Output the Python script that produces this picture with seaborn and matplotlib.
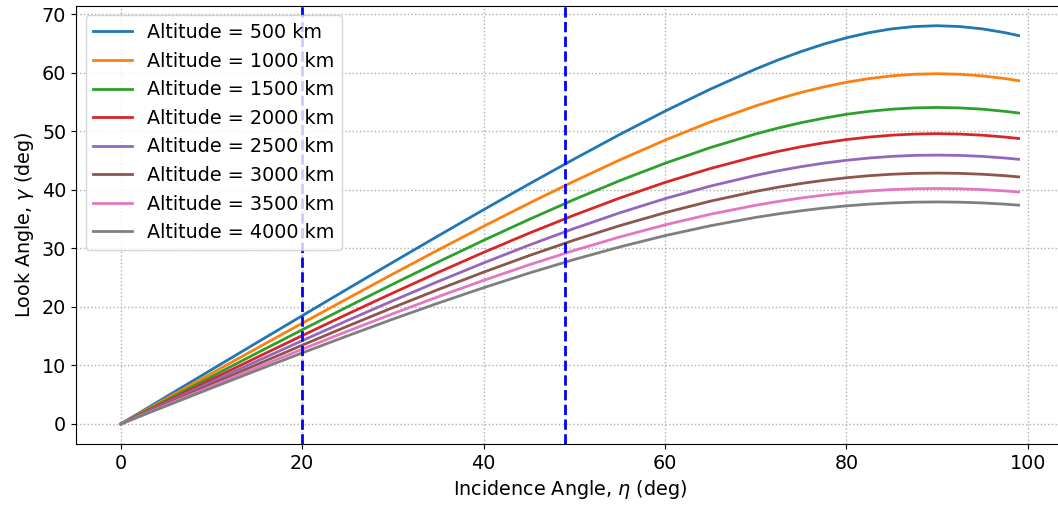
import matplotlib
matplotlib.use("Agg")
import matplotlib.pyplot as plt
import pandas as pd
import seaborn as sns

# Incidence angle samples (deg)
incidence = [0, 5, 10, 15, 20, 25, 30, 35, 40, 45, 50, 55, 60, 65, 70,
             72.5, 75, 77.5, 80, 82.5, 85, 87.5, 90, 92.5, 95, 97.5, 99]

# Look angle (deg) for each orbital altitude
look_500 = [0, 4.64, 9.27, 13.89, 18.49, 23.07, 27.62, 32.13, 36.59, 40.97, 45.26, 49.43,
            53.42, 57.18, 60.62, 62.18, 63.60, 64.87, 65.95, 66.83, 67.48, 67.88, 68.02,
            67.88, 67.48, 66.83, 66.33]
look_1000 = [0, 4.32, 8.63, 12.93, 17.20, 21.43, 25.61, 29.73, 33.76, 37.68, 41.47, 45.08,
             48.47, 51.58, 54.32, 55.53, 56.62, 57.56, 58.36, 58.99, 59.45, 59.73, 59.82,
             59.73, 59.45, 58.99, 58.63]
look_1500 = [0, 4.05, 8.08, 12.10, 16.08, 20.01, 23.88, 27.67, 31.36, 34.92, 38.34, 41.54,
             44.52, 47.20, 49.53, 50.55, 51.45, 52.22, 52.89, 53.39, 53.76, 53.98, 54.06,
             53.98, 53.76, 53.39, 53.11]
look_2000 = [0, 3.80, 7.60, 11.36, 15.09, 18.77, 22.37, 25.89, 29.30, 32.57, 35.67, 38.58,
             41.25, 43.63, 45.67, 46.56, 47.34, 48.01, 48.57, 49.00, 49.32, 49.51, 49.58,
             49.51, 49.32, 49.00, 48.76]
look_2500 = [0, 3.59, 7.17, 10.72, 14.22, 17.68, 21.05, 24.34, 27.50, 30.53, 33.39, 36.05,
             38.48, 40.62, 42.46, 43.25, 43.94, 44.54, 45.03, 45.42, 45.70, 45.87, 45.92,
             45.87, 45.70, 45.42, 45.20]
look_3000 = [0, 3.40, 6.78, 10.14, 13.45, 16.70, 19.88, 22.96, 25.92, 28.74, 31.40, 33.86,
             36.08, 38.05, 39.72, 40.44, 41.07, 41.60, 42.05, 42.40, 42.65, 42.80, 42.85,
             42.80, 42.65, 42.40, 42.20]
look_3500 = [0, 3.23, 6.44, 9.62, 12.76, 15.84, 18.83, 21.74, 24.52, 27.17, 29.64, 31.93,
             34.00, 35.82, 37.35, 38.01, 38.59, 39.08, 39.48, 39.80, 40.03, 40.17, 40.22,
             40.17, 40.03, 39.80, 39.62]
look_4000 = [0, 3.07, 6.13, 9.15, 12.13, 15.05, 17.90, 20.64, 23.27, 25.76, 28.09, 30.23,
             32.16, 33.85, 35.28, 35.88, 36.41, 36.87, 37.25, 37.54, 37.75, 37.88, 37.92,
             37.88, 37.75, 37.54, 37.37]

altitudes = [500, 1000, 1500, 2000, 2500, 3000, 3500, 4000]
look_angles = [look_500, look_1000, look_1500, look_2000,
               look_2500, look_3000, look_3500, look_4000]

# Incidence-angle limits marked on the plot
eta_limits = [20, 49]

frames = []
for alt, vals in zip(altitudes, look_angles):
    frames.append(pd.DataFrame({
        "incidence": incidence,
        "look": vals,
        "label": f"Altitude = {alt} km",
    }))
df = pd.concat(frames, ignore_index=True)
labels = [f"Altitude = {a} km" for a in altitudes]

plt.rcParams["font.family"] = ["DejaVu Sans"]
plt.rcParams["font.size"] = 13.8

fig, ax = plt.subplots(figsize=(10.58, 5.09), dpi=100)
sns.lineplot(data=df, x="incidence", y="look", hue="label", hue_order=labels,
             palette="tab10", linewidth=2, ax=ax, sort=False)

for x in eta_limits:
    ax.axvline(x, color="blue", linestyle="--", linewidth=2)

ax.grid(True, linestyle=":", color="#b0b0b0", linewidth=1)
ax.set_xlabel(r"Incidence Angle, $\eta$ (deg)")
ax.set_ylabel(r"Look Angle, $\gamma$ (deg)")
ax.legend(loc="upper left", title=None)

# The plot area runs slightly past the right edge of the canvas
fig.subplots_adjust(left=0.0718, right=1.0052, top=0.9886, bottom=0.128)
fig.savefig("out.png", dpi=100)
